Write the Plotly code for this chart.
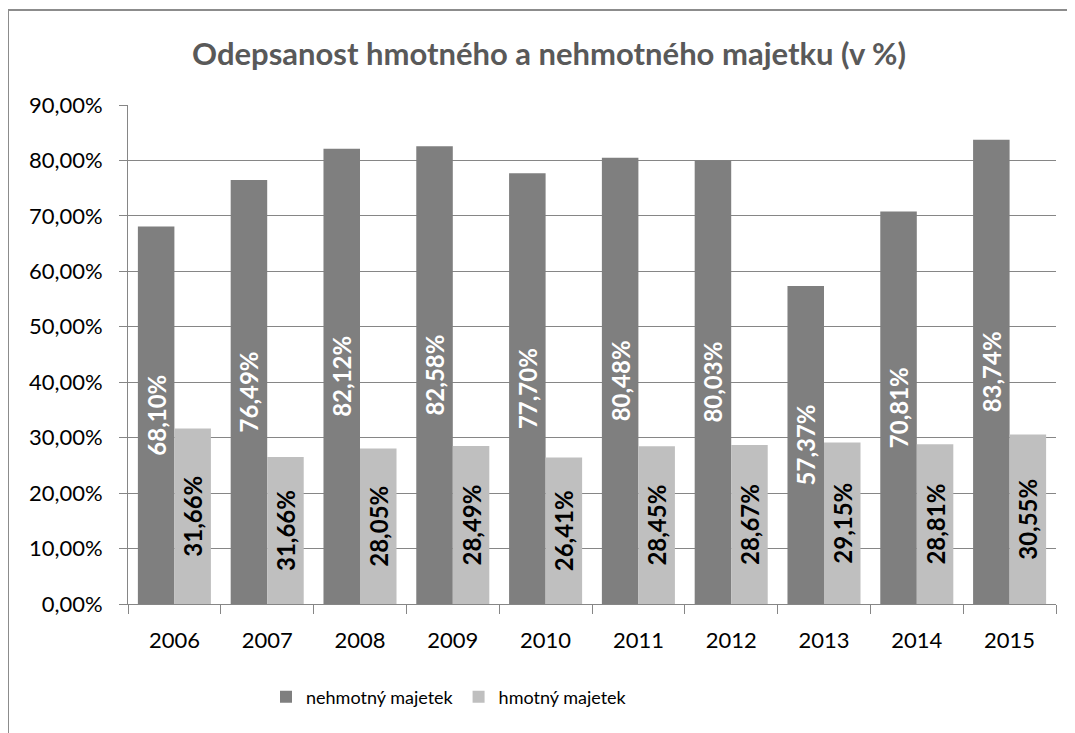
import plotly.graph_objects as go

years = ["2006", "2007", "2008", "2009", "2010", "2011", "2012", "2013", "2014", "2015"]
nehmotny = [68.10, 76.49, 82.12, 82.58, 77.70, 80.48, 80.03, 57.37, 70.81, 83.74]
hmotny = [31.66, 26.50, 28.05, 28.49, 26.41, 28.45, 28.67, 29.15, 28.81, 30.55]
hmotny_labels = [31.66, 31.66, 28.05, 28.49, 26.41, 28.45, 28.67, 29.15, 28.81, 30.55]
y_ticks = [0, 10, 20, 30, 40, 50, 60, 70, 80, 90]

def fmt(v):
    return f"{v:.2f}".replace(".", ",") + "%"

FONT = "Lato"
OFF = 8  # page body margin
W, H = 1075 - OFF, 733 - OFF
# target page coordinates of plot area
PL, PR, PT, PB = 128, 1056, 105, 604
L, R, T, B = PL - OFF, W - (PR - OFF), PT - OFF, H - (PB - OFF)
pw, ph = W - L - R, H - T - B

def px(x):  # page x -> paper
    return (x - OFF - L) / pw

def py(y):  # page y -> paper
    return (PB - y) / ph

fig = go.Figure()
fig.add_trace(go.Bar(
    x=years, y=[v / 100 for v in nehmotny], name="nehmotný majetek",
    marker=dict(color="#7f7f7f", line=dict(width=0)),
    text=[fmt(v) for v in nehmotny], textposition="inside",
    insidetextanchor="middle", textangle=-90,
    textfont=dict(family=FONT, size=24, color="white", weight="bold"),
    hoverinfo="skip",
))
fig.add_trace(go.Bar(
    x=years, y=[v / 100 for v in hmotny], name="hmotný majetek",
    marker=dict(color="#bfbfbf", line=dict(width=0)),
    text=[fmt(v) for v in hmotny_labels], textposition="inside",
    insidetextanchor="middle", textangle=-90,
    textfont=dict(family=FONT, size=24, color="black", weight="bold"),
    hoverinfo="skip",
))

fig.update_layout(
    width=W, height=H,
    margin=dict(l=L, r=R, t=T, b=B, autoexpand=False),
    paper_bgcolor="white", plot_bgcolor="white",
    separators=",.",
    barmode="group", bargap=0.213, bargroupgap=0,
    font=dict(family=FONT, size=20, color="#000000"),
    title=dict(text="<b>Odepsanost hmotného a nehmotného majetku (v %)</b>",
               x=(549 - OFF) / W, xref="container", xanchor="center",
               y=1 - (54 - OFF) / H, yref="container", yanchor="middle",
               font=dict(family=FONT, size=31, color="#595959")),
    showlegend=True,
    legend=dict(orientation="h", x=px(449), xanchor="center", y=py(697), yanchor="middle",
                font=dict(family=FONT, size=18, color="#000000"),
                traceorder="normal", itemwidth=30),
    xaxis=dict(type="category", showgrid=False, showline=True, linecolor="#868686",
               linewidth=1, ticks="outside", tickson="boundaries", ticklen=9,
               tickcolor="#868686", ticklabelstandoff=17, fixedrange=True,
               tickfont=dict(family=FONT, size=22, color="#000000")),
    yaxis=dict(range=[0, 0.9], tickvals=[v / 100 for v in y_ticks], tickformat=".2%",
               showgrid=True, gridcolor="#868686", gridwidth=1,
               showline=True, linecolor="#868686", linewidth=1,
               ticks="outside", ticklen=8, tickcolor="#868686",
               ticklabelstandoff=12, zeroline=False, fixedrange=True,
               tickfont=dict(family=FONT, size=22, color="#000000")),
    shapes=[dict(type="rect", xref="paper", yref="paper",
                 x0=px(8), x1=px(1090), y0=py(750), y1=py(10),
                 line=dict(color="#8c8c8c", width=2), fillcolor="rgba(0,0,0,0)",
                 layer="above")],
)

fig.write_html("out.html")
